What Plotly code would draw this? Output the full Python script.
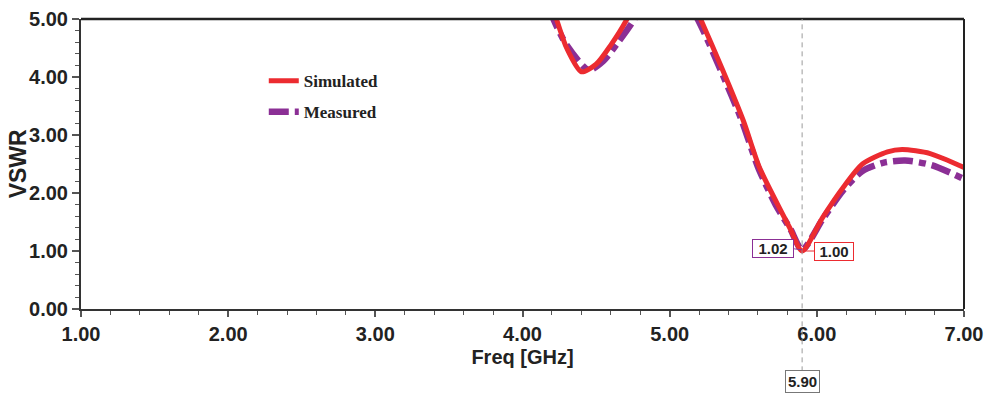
import plotly.graph_objects as go

# ---- data ----
sim_freq = [4.10, 4.23, 4.30, 4.40, 4.50, 4.60, 4.71, 4.80, 4.95, 5.10, 5.21, 5.36, 5.50,
            5.61, 5.73, 5.82, 5.90, 6.04, 6.18, 6.31, 6.48, 6.58, 6.77, 7.00]
sim_vswr = [5.90, 5.00, 4.50, 4.09, 4.22, 4.55, 5.00, 5.50, 6.00, 5.60, 5.00, 4.12, 3.25,
            2.44, 1.82, 1.38, 1.00, 1.58, 2.10, 2.50, 2.71, 2.75, 2.68, 2.44]

meas_freq = [4.10, 4.21, 4.30, 4.45, 4.55, 4.65, 4.76, 4.95, 5.19, 5.35, 5.49, 5.60,
             5.72, 5.82, 5.90, 6.04, 6.18, 6.31, 6.45, 6.60, 6.78, 7.00]
meas_vswr = [5.80, 5.00, 4.55, 4.12, 4.28, 4.60, 5.00, 6.00, 5.00, 4.10, 3.25, 2.45,
             1.80, 1.38, 1.02, 1.55, 2.05, 2.38, 2.52, 2.56, 2.48, 2.24]

marker_freq = 5.90
sim_marker = 1.00
meas_marker = 1.02

x_ticks = [1, 2, 3, 4, 5, 6, 7]
y_ticks = [0, 1, 2, 3, 4, 5]

RED = "#EC2B30"
PURPLE = "#8B2F95"
TICKFONT = dict(family="Liberation Sans Narrow, Liberation Sans, Arial", size=20, color="#222222", weight="bold")

fig = go.Figure()
fig.add_trace(go.Scatter(x=meas_freq, y=meas_vswr, mode="lines", name="Measured",
                         line=dict(color=PURPLE, width=6.5, dash="20px,6px,7px,6px",
                                   shape="spline", smoothing=0.7),
                         legendrank=2, legendgroup="m"))
fig.add_trace(go.Scatter(x=sim_freq, y=sim_vswr, mode="lines", name="Simulated",
                         line=dict(color=RED, width=5, shape="spline", smoothing=0.7),
                         legendrank=1, legendgroup="s"))

axis_common = dict(showgrid=False, zeroline=False, showline=True, linecolor="#333333",
                   linewidth=2, ticks="outside", tickcolor="#555555", tickwidth=1.5,
                   tickfont=TICKFONT, mirror=False, automargin=False)

fig.update_xaxes(range=[1, 7], tickvals=x_ticks, ticktext=[f"{v:.2f}" for v in x_ticks],
                 ticklen=6, minor=dict(dtick=0.2, ticks="outside", ticklen=4,
                                       tickcolor="#555555", tickwidth=1.2),
                 title=dict(text="Freq [GHz]", standoff=6,
                            font=dict(family="Liberation Sans, Arial", size=20,
                                      color="#222222", weight="bold")),
                 **axis_common)
fig.update_yaxes(range=[0, 5], tickvals=y_ticks, ticktext=[f"{v:.2f}" for v in y_ticks],
                 ticklen=7, minor=dict(dtick=0.2, ticks="outside", ticklen=4,
                                       tickcolor="#555555", tickwidth=1.2),
                 **axis_common)

# y-axis title placed as text
fig.add_annotation(text="<b>VSWR</b>", xref="paper", yref="paper", x=-0.071, y=0.5,
                   textangle=-90, showarrow=False, xanchor="center", yanchor="middle",
                   font=dict(family="Liberation Sans, Arial", size=23, color="#222222"))

# top and right frame lines
fig.add_shape(type="line", xref="paper", yref="paper", x0=0, x1=1, y0=1, y1=1,
              line=dict(color="#222222", width=2.5))
fig.add_shape(type="line", xref="paper", yref="paper", x0=1, x1=1, y0=0, y1=1,
              line=dict(color="#222222", width=2))

# marker line at 5.90
fig.add_shape(type="line", xref="x", yref="paper", x0=marker_freq, x1=marker_freq,
              y0=-0.215, y1=1, line=dict(color="#9a9a9a", width=1, dash="5px,4px"))

lab_font = dict(family="Liberation Sans Narrow, Liberation Sans, Arial", size=15,
                color="#222222", weight="bold")
fig.add_annotation(x=marker_freq, y=meas_marker, text=f"{meas_marker:.2f}", showarrow=True,
                   ax=-8, ay=-1, arrowhead=0, arrowcolor=PURPLE, arrowwidth=1,
                   bordercolor=PURPLE, borderwidth=1, borderpad=0, bgcolor="white",
                   font=lab_font, xanchor="right", width=40)
fig.add_annotation(x=marker_freq, y=sim_marker, text=f"{sim_marker:.2f}", showarrow=True,
                   ax=12, ay=0, arrowhead=0, arrowcolor=RED, arrowwidth=1,
                   bordercolor=RED, borderwidth=1, borderpad=0, bgcolor="white",
                   font=lab_font, xanchor="left", width=38)
fig.add_annotation(x=marker_freq, xref="x", y=-0.29, yref="paper", text=f"{marker_freq:.2f}",
                   showarrow=False, bordercolor="#777777", borderwidth=1, borderpad=2,
                   bgcolor="white", font=lab_font)

fig.update_layout(
    width=988, height=397,
    margin=dict(l=81, r=24, t=19, b=88, autoexpand=False),
    paper_bgcolor="white", plot_bgcolor="white",
    showlegend=True,
    legend=dict(x=0.207, y=0.848, xanchor="left", yanchor="top",
                bgcolor="rgba(0,0,0,0)", borderwidth=0,
                traceorder="grouped", tracegroupgap=6, itemwidth=30,
                font=dict(family="Liberation Serif, Times New Roman", size=17,
                          color="#222222", weight="bold")),
)

fig.write_html("out.html")
